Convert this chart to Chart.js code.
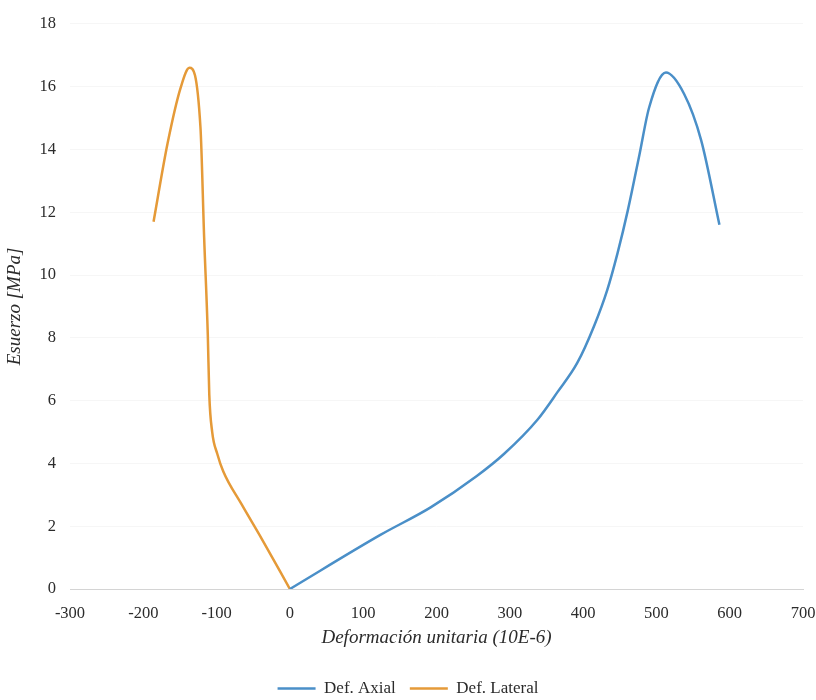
<!DOCTYPE html>
<html>
<head>
<meta charset="utf-8">
<script src="https://cdn.jsdelivr.net/npm/chart.js@4"></script>
<style>
  html, body { margin: 0; padding: 0; background: #fff; }
  #wrap { width: 816px; height: 700px; }
</style>
</head>
<body>
<div id="wrap"><canvas id="myChart" width="816" height="700"></canvas></div>
<script>
// values
var axialX = [0, 124, 192, 255, 292, 338, 365, 392, 415, 433, 447, 461, 477, 490, 513, 538, 561, 586];
var axialY = [0, 1.73, 2.6, 3.6, 4.3, 5.4, 6.27, 7.2, 8.38, 9.53, 10.7, 12.06, 13.85, 15.33, 16.45, 15.76, 14.3, 11.6];

var lateralX = [-186, -167, -149, -137, -122, -117, -112, -110, -106, -99, -91, -66, -39, 0];
var lateralY = [11.7, 14.18, 15.97, 16.6, 14.7, 11.2, 8.09, 6.2, 5.0, 4.3, 3.75, 2.7, 1.62, 0];

var xTicks = [-300, -200, -100, 0, 100, 200, 300, 400, 500, 600, 700];
var yTicks = [0, 2, 4, 6, 8, 10, 12, 14, 16, 18];

function toPoints(xs, ys) {
  var pts = [];
  for (let i = 0; i < xs.length; i++) {
    pts.push({ x: xs[i], y: ys[i] });
  }
  return pts;
}

var serif = "'Liberation Serif', 'DejaVu Serif', serif";
var textColor = "#2b2b2b";

const data = {
  datasets: [
    {
      label: "Def. Axial",
      data: toPoints(axialX, axialY),
      borderColor: "#4a8fc8",
      backgroundColor: "#4a8fc8",
      borderWidth: 2.5,
      pointRadius: 0,
      showLine: true,
      cubicInterpolationMode: "monotone",
    },
    {
      label: "Def. Lateral",
      data: toPoints(lateralX, lateralY),
      borderColor: "#e59a38",
      backgroundColor: "#e59a38",
      borderWidth: 2.5,
      pointRadius: 0,
      showLine: true,
      cubicInterpolationMode: "monotone",
    },
  ],
};

const config = {
  type: "scatter",
  data: data,
  options: {
    responsive: false,
    animation: false,
    layout: { padding: { top: 20, right: 0, left: 0, bottom: -7 } },
    plugins: {
      tooltip: { enabled: false },
      legend: {
        position: "bottom",
        labels: {
          usePointStyle: true,
          pointStyle: "line",
          pointStyleWidth: 38,
          color: textColor,
          padding: 14,
          font: { family: serif, size: 17 },
        },
      },
    },
    scales: {
      x: {
        type: "linear",
        min: -300,
        max: 700,
        afterBuildTicks: function (scale) {
          scale.ticks = xTicks.map(function (v) { return { value: v }; });
        },
        afterFit: function (scale) {
          scale.height = 77;
          scale.paddingLeft = 0;
          scale.paddingRight = 13;
        },
        grid: { display: false, drawTicks: false },
        border: { display: true, color: "#d4d4d4", width: 1 },
        ticks: { color: textColor, padding: 15, font: { family: serif, size: 16.5 } },
        title: {
          display: true,
          text: "Deformación unitaria (10E-6)",
          color: textColor,
          font: { family: serif, size: 19, style: "italic" },
          padding: { top: 0, bottom: 17 },
        },
      },
      y: {
        type: "linear",
        min: 0,
        max: 18,
        afterBuildTicks: function (scale) {
          scale.ticks = yTicks.map(function (v) { return { value: v }; });
        },
        afterFit: function (scale) {
          scale.width = 70;
        },
        grid: { color: "rgba(0,0,0,0.035)", drawTicks: false },
        border: { display: false },
        ticks: { color: textColor, padding: 14, font: { family: serif, size: 16.5 } },
        title: {
          display: true,
          text: "Esuerzo [MPa]",
          color: textColor,
          font: { family: serif, size: 19, style: "italic" },
          padding: { top: 4, bottom: 0 },
        },
      },
    },
  },
};

const myChart = new Chart(document.getElementById("myChart"), config);
</script>
</body>
</html>
